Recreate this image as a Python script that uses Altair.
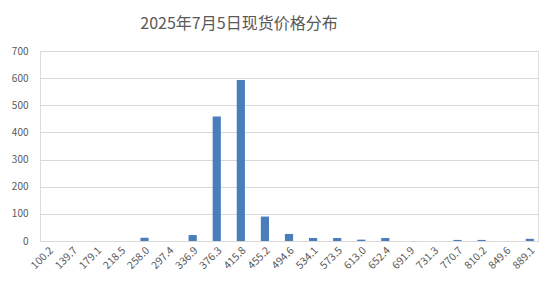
import altair as alt
import pandas as pd

# Price bins (lower bound of each bin) and the count of quotes in each
price_bins = ["100.2", "139.7", "179.1", "218.5", "258.0", "297.4", "336.9",
              "376.3", "415.8", "455.2", "494.6", "534.1", "573.5", "613.0",
              "652.4", "691.9", "731.3", "770.7", "810.2", "849.6", "889.1"]
counts = [0, 0, 0, 0, 12, 0, 22, 459, 593, 90, 26, 11, 11, 5, 11, 0, 0, 4, 4, 0, 8]

df = pd.DataFrame({"bin": price_bins, "count": counts})

font = "Noto Sans CJK SC"
grey = "#595959"

chart = alt.Chart(df).mark_bar(color="#4a7ebb").encode(
    x=alt.X("bin:N", sort=price_bins, title=None,
            scale=alt.Scale(paddingInner=0.66, paddingOuter=0.17),
            axis=alt.Axis(labelAngle=-45, labelAlign="right", labelBaseline="top",
                          labelFontSize=10.5, labelColor=grey, labelFont=font,
                          labelPadding=4, ticks=False, domainColor="#d9d9d9",
                          labelOverlap=False)),
    y=alt.Y("count:Q", title=None,
            scale=alt.Scale(domain=[0, 700]),
            axis=alt.Axis(values=list(range(0, 701, 100)), labelFontSize=10,
                          labelColor=grey, labelFont=font, labelPadding=12,
                          ticks=False, domain=False, gridColor="#d9d9d9")),
).properties(
    width=498,
    height=190,
    title=alt.TitleParams("2025年7月5日现货价格分布", anchor="start", dx=129,
                          font=font, fontSize=16, fontWeight="normal",
                          color=grey, offset=14),
    autosize=alt.AutoSizeParams(type="none"),
    padding={"left": 40, "top": 51, "right": 16, "bottom": 49},
).configure_view(stroke=None).configure(background="white")

chart.save("out.html", embed_options={"renderer": "svg", "actions": False})
